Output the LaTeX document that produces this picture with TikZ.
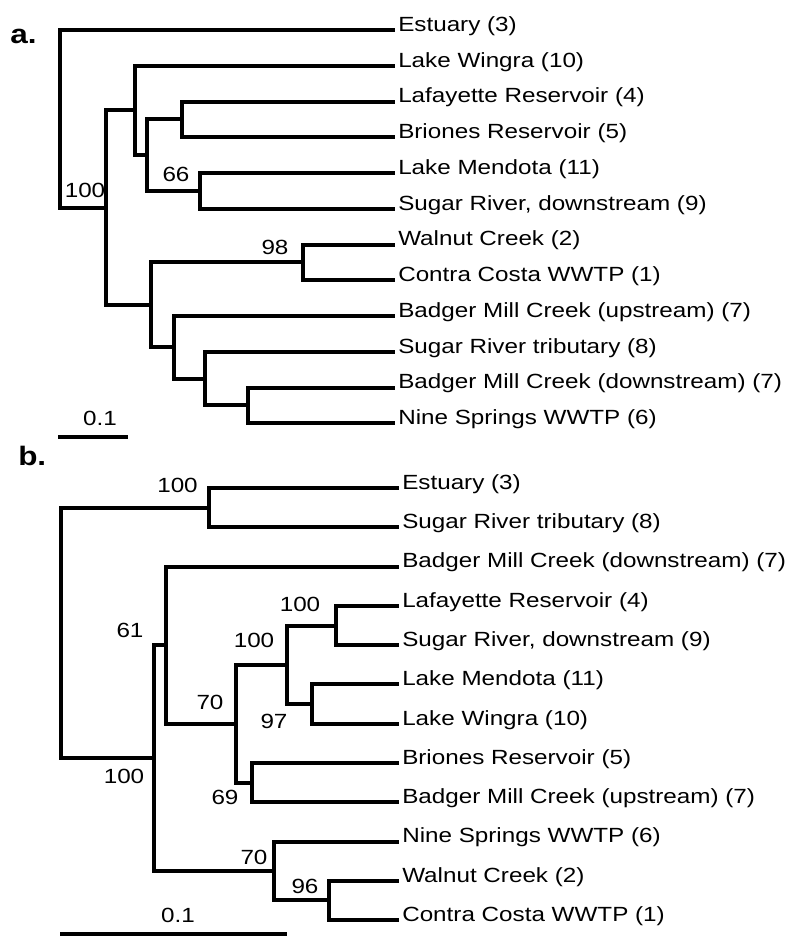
\documentclass[tikz,border=0pt]{standalone}
\usepackage{fontspec}
\setmainfont{Liberation Sans}[FakeStretch=1.18]
\usepackage{tikz}
\usetikzlibrary{positioning}

\begin{document}
\begin{tikzpicture}[
    x=0.75pt, y=-0.75pt,
    branch/.style={line width=3pt, line join=miter},
    leaf/.style={
      anchor=west, inner xsep=2.25pt, inner ysep=0pt,
      text height=8pt, text depth=5.9pt,
      font=\fontsize{15.4}{18}\selectfont,
    },
    boot/.style={inner sep=0pt, font=\fontsize{15.4}{18}\selectfont},
    panel/.style={anchor=base west, inner sep=0pt, font=\fontsize{20}{24}\selectfont\bfseries},
  ]
  \useasboundingbox (0,0) rectangle (800,947);

  % =================== Tree a ===================
  \node[panel] (pa) at (10,43) {a.};

  % leaves
  \node[leaf] (aL1) at (395,30) {Estuary (3)};
  \node[leaf] (aL2) at (395,65.75) {Lake Wingra (10)};
  \node[leaf] (aL3) at (395,101.5) {Lafayette Reservoir (4)};
  \node[leaf] (aL4) at (395,137.25) {Briones Reservoir (5)};
  \node[leaf] (aL5) at (395,173) {Lake Mendota (11)};
  \node[leaf] (aL6) at (395,208.75) {Sugar River, downstream (9)};
  \node[leaf] (aL7) at (395,244.5) {Walnut Creek (2)};
  \node[leaf] (aL8) at (395,280.25) {Contra Costa WWTP (1)};
  \node[leaf] (aL9) at (395,316) {Badger Mill Creek (upstream) (7)};
  \node[leaf] (aL10) at (395,351.75) {Sugar River tributary (8)};
  \node[leaf] (aL11) at (395,387.5) {Badger Mill Creek (downstream) (7)};
  \node[leaf] (aL12) at (395,423.25) {Nine Springs WWTP (6)};

  % internal nodes
  \coordinate (aR) at (60,118.8);
  \coordinate (aX) at (106,207.6);
  \coordinate (aA) at (135,110.4);
  \coordinate (aB) at (147,155.1);
  \coordinate (aC) at (182,119.4);
  \coordinate (aD) at (200,190.9);
  \coordinate (aY) at (151,304.8);
  \coordinate (aE) at (303,262.4);
  \coordinate (aF) at (174,347.3);
  \coordinate (aG) at (205,378.6);
  \coordinate (aH) at (248,405.4);

  \foreach \p/\c in {aR/aL1.west, aR/aX, aX/aA, aX/aY, aA/aL2.west, aA/aB,
                     aB/aC, aB/aD, aC/aL3.west, aC/aL4.west, aD/aL5.west, aD/aL6.west,
                     aY/aE, aY/aF, aE/aL7.west, aE/aL8.west, aF/aL9.west, aF/aG,
                     aG/aL10.west, aG/aH, aH/aL11.west, aH/aL12.west}
    \draw[branch] (\p) |- (\c);

  % bootstrap values
  \node[boot] (aBs1) at (85,190) {100};
  \node[boot] (aBs2) at (176,174.5) {66};
  \node[boot] (aBs3) at (275,247.5) {98};

  % scale bar
  \coordinate (aS1) at (58,437);
  \coordinate (aS2) at (128,437);
  \draw[branch] (aS1) -- (aS2);
  \node[boot] (aSl) at (100,418) {0.1};

  % =================== Tree b ===================
  \node[panel] (pb) at (18,465) {b.};

  % leaves
  \node[leaf] (bL1) at (399,488) {Estuary (3)};
  \node[leaf] (bL2) at (399,527.3) {Sugar River tributary (8)};
  \node[leaf] (bL3) at (399,566.5) {Badger Mill Creek (downstream) (7)};
  \node[leaf] (bL4) at (399,605.8) {Lafayette Reservoir (4)};
  \node[leaf] (bL5) at (399,645.1) {Sugar River, downstream (9)};
  \node[leaf] (bL6) at (399,684.4) {Lake Mendota (11)};
  \node[leaf] (bL7) at (399,723.6) {Lake Wingra (10)};
  \node[leaf] (bL8) at (399,762.9) {Briones Reservoir (5)};
  \node[leaf] (bL9) at (399,802.2) {Badger Mill Creek (upstream) (7)};
  \node[leaf] (bL10) at (399,841.5) {Nine Springs WWTP (6)};
  \node[leaf] (bL11) at (399,880.7) {Walnut Creek (2)};
  \node[leaf] (bL12) at (399,920) {Contra Costa WWTP (1)};

  % internal nodes
  \coordinate (bR) at (61,632.8);
  \coordinate (bP) at (209,507.6);
  \coordinate (bQ) at (154,758);
  \coordinate (bM) at (166,645.1);
  \coordinate (bN) at (236,723.6);
  \coordinate (bT) at (287,664.8);
  \coordinate (bU) at (336,625.5);
  \coordinate (bV) at (312,704);
  \coordinate (bW) at (252,782.5);
  \coordinate (bK) at (274,870.9);
  \coordinate (bZ) at (329,900.4);

  \foreach \p/\c in {bR/bP, bR/bQ, bP/bL1.west, bP/bL2.west, bQ/bM, bQ/bK,
                     bM/bL3.west, bM/bN, bN/bT, bN/bW, bT/bU, bT/bV,
                     bU/bL4.west, bU/bL5.west, bV/bL6.west, bV/bL7.west,
                     bW/bL8.west, bW/bL9.west, bK/bL10.west, bK/bZ,
                     bZ/bL11.west, bZ/bL12.west}
    \draw[branch] (\p) |- (\c);

  % bootstrap values
  \node[boot] (bBs1) at (177.5,485) {100};
  \node[boot] (bBs2) at (130,630) {61};
  \node[boot] (bBs3) at (300,604) {100};
  \node[boot] (bBs4) at (254,640) {100};
  \node[boot] (bBs5) at (210,702) {70};
  \node[boot] (bBs6) at (274,721) {97};
  \node[boot] (bBs7) at (124,776) {100};
  \node[boot] (bBs8) at (225,797) {69};
  \node[boot] (bBs9) at (254,857) {70};
  \node[boot] (bBs10) at (305,886) {96};

  % scale bar
  \coordinate (bS1) at (60,934);
  \coordinate (bS2) at (287,934);
  \draw[branch] (bS1) -- (bS2);
  \node[boot] (bSl) at (178,915) {0.1};

\end{tikzpicture}
\end{document}
